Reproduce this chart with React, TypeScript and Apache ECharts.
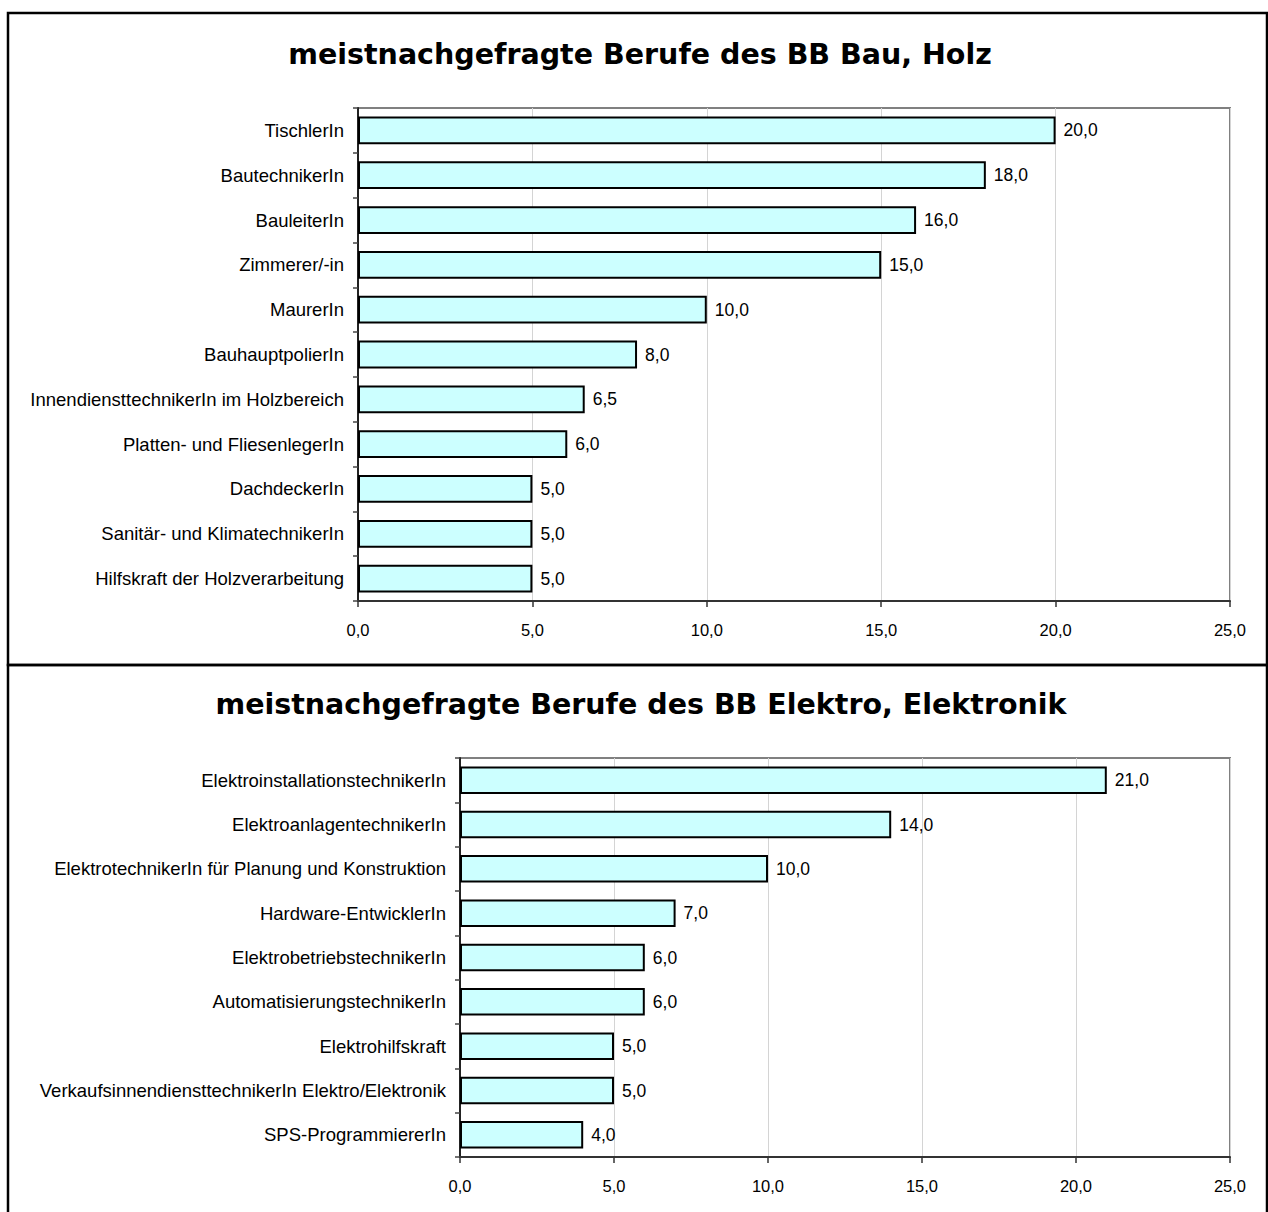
import React, { useEffect, useRef } from "react";
import * as echarts from "echarts";

const titleTop = "meistnachgefragte Berufe des BB Bau, Holz";
const titleBottom = "meistnachgefragte Berufe des BB Elektro, Elektronik";

const categoriesTop = [
  "TischlerIn",
  "BautechnikerIn",
  "BauleiterIn",
  "Zimmerer/-in",
  "MaurerIn",
  "BauhauptpolierIn",
  "InnendiensttechnikerIn im Holzbereich",
  "Platten- und FliesenlegerIn",
  "DachdeckerIn",
  "Sanitär- und KlimatechnikerIn",
  "Hilfskraft der Holzverarbeitung",
];
const valuesTop = [20, 18, 16, 15, 10, 8, 6.5, 6, 5, 5, 5];

const categoriesBottom = [
  "ElektroinstallationstechnikerIn",
  "ElektroanlagentechnikerIn",
  "ElektrotechnikerIn für Planung und Konstruktion",
  "Hardware-EntwicklerIn",
  "ElektrobetriebstechnikerIn",
  "AutomatisierungstechnikerIn",
  "Elektrohilfskraft",
  "VerkaufsinnendiensttechnikerIn Elektro/Elektronik",
  "SPS-ProgrammiererIn",
];
const valuesBottom = [21, 14, 10, 7, 6, 6, 5, 5, 4];

const axisMin = 0;
const axisMax = 25;
const axisInterval = 5;

const fmt = (v: number) => Number(v).toFixed(1).replace(".", ",");
const FONT = "'Liberation Sans', Arial, sans-serif";
const TITLE_FONT = "'DejaVu Sans', Verdana, sans-serif";

export default function App() {
  const ref = useRef<HTMLDivElement>(null);
  useEffect(() => {
    if (!ref.current) return;
    const chart = echarts.init(ref.current, null, { renderer: "svg" });
    const xAxisBase = (gridIndex: number) => ({
      type: "value",
      gridIndex,
      min: axisMin,
      max: axisMax,
      interval: axisInterval,
      axisLine: { show: true, lineStyle: { color: "#333", width: 2 } },
      axisTick: { show: true, length: 6, lineStyle: { color: "#333", width: 1.5 } },
      axisLabel: {
        color: "#000",
        fontFamily: FONT,
        fontSize: 16.5,
        margin: 20,
        formatter: (v: number) => fmt(v),
      },
      splitLine: { show: true, lineStyle: { color: "#d4d4d4", width: 1 } },
    });
    const yAxisBase = (gridIndex: number, data: string[]) => ({
      type: "category",
      gridIndex,
      data,
      inverse: true,
      axisLine: { show: true, lineStyle: { color: "#222", width: 2 } },
      axisTick: { show: true, length: 5, lineStyle: { color: "#444", width: 1.5 } },
      axisLabel: { color: "#000", fontFamily: FONT, fontSize: 18.5, margin: 14 },
      splitLine: { show: false },
    });
    const barSeries = (idx: number, data: number[]) => ({
      type: "bar",
      xAxisIndex: idx,
      yAxisIndex: idx,
      data,
      barCategoryGap: "38%",
      itemStyle: { color: "#CCFFFF", borderColor: "#000", borderWidth: 2 },
      label: {
        show: true,
        position: "right",
        distance: 8,
        color: "#000",
        fontFamily: FONT,
        fontSize: 17.5,
        formatter: (p: any) => fmt(p.value),
      },
    });
    chart.setOption({
      animation: false,
      backgroundColor: "#fff",
      grid: [
        {
          left: 358,
          top: 108,
          width: 872,
          height: 493,
          show: true,
          borderColor: "#808080",
          borderWidth: 2,
          containLabel: false,
        },
        {
          left: 460,
          top: 758,
          width: 770,
          height: 399,
          show: true,
          borderColor: "#808080",
          borderWidth: 2,
          containLabel: false,
        },
      ],
      xAxis: [xAxisBase(0), xAxisBase(1)],
      yAxis: [yAxisBase(0, categoriesTop), yAxisBase(1, categoriesBottom)],
      series: [barSeries(0, valuesTop), barSeries(1, valuesBottom)],
      graphic: [
        {
          type: "rect",
          shape: { x: 8, y: 13, width: 1259, height: 652 },
          style: { fill: "none", stroke: "#000", lineWidth: 2.5 },
          z: 10,
        },
        {
          type: "rect",
          shape: { x: 8, y: 665, width: 1259, height: 600 },
          style: { fill: "none", stroke: "#000", lineWidth: 2.5 },
          z: 10,
        },
        {
          type: "text",
          x: 640,
          y: 54,
          style: {
            text: titleTop,
            font: `bold 28.5px ${TITLE_FONT}`,
            fill: "#000",
            textAlign: "center",
            textVerticalAlign: "middle",
          },
        },
        {
          type: "text",
          x: 641,
          y: 704,
          style: {
            text: titleBottom,
            font: `bold 28.5px ${TITLE_FONT}`,
            fill: "#000",
            textAlign: "center",
            textVerticalAlign: "middle",
          },
        },
      ],
    });
    return () => chart.dispose();
  }, []);
  return (
    <div
      ref={ref}
      style={{ position: "absolute", left: 0, top: 0, width: 1268, height: 1212 }}
    />
  );
}
